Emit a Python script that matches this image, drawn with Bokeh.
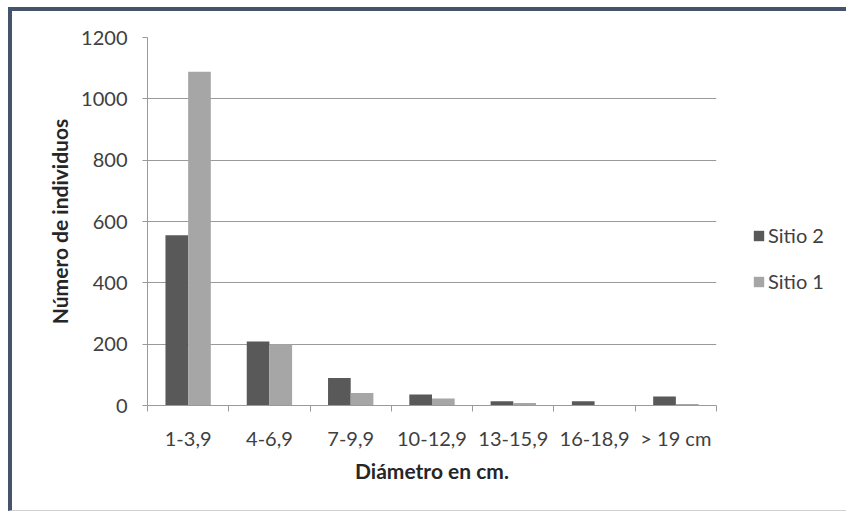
from bokeh.plotting import figure
from bokeh.models import ColumnDataSource, Range1d, FixedTicker, Legend, LegendItem
from bokeh.transform import dodge
from bokeh.embed import file_html
from bokeh.resources import INLINE

# ---- data ----
categories = ["1-3,9", "4-6,9", "7-9,9", "10-12,9", "13-15,9", "16-18,9", "> 19 cm"]
sitio2 = [555, 209, 90, 36, 14, 14, 29]
sitio1 = [1088, 200, 41, 23, 8, 2, 5]
y_ticks = [0, 200, 400, 600, 800, 1000, 1200]
series_names = ["Sitio 2", "Sitio 1"]

positions = list(range(1, len(categories) + 1))
source = ColumnDataSource(dict(x=positions, cat=categories, s2=sitio2, s1=sitio1))

FONT = "Lato"
DARK = "#595959"
LIGHT = "#a6a6a6"
GRID = "#9a9a9a"
TXT = "#404040"
TICK_FS = "20px"
TITLE_FS = "21px"

p = figure(
    frame_width=569, frame_height=368,
    output_backend="svg", toolbar_location=None,
    x_range=Range1d(0.5, len(categories) + 0.5),
    y_range=Range1d(0, 1200),
    min_border_left=135, min_border_right=130,
    min_border_top=26, min_border_bottom=105,
)
p.styles = {
    "margin-left": "8px", "margin-top": "7px",
    "border-left": "4px solid #46546a", "border-top": "4px solid #46546a",
    "border-bottom": "1px solid #d0d0d0",
}
p.background_fill_color = "white"
p.border_fill_color = "white"
p.outline_line_color = None

bw = 0.279
r2 = p.vbar(x=dodge("x", -bw / 2, range=p.x_range), top="s2", width=bw, bottom=0,
            source=source, fill_color=DARK, line_color=None)
r1 = p.vbar(x=dodge("x", bw / 2, range=p.x_range), top="s1", width=bw, bottom=0,
            source=source, fill_color=LIGHT, line_color=None)

# x axis: labels at category centres, tick marks at category boundaries
xa = p.xaxis[0]
xa.ticker = FixedTicker(ticks=positions,
                        minor_ticks=[v - 0.5 for v in positions] + [positions[-1] + 0.5])
xa.major_label_overrides = {v: c for v, c in zip(positions, categories)}
xa.major_tick_out = 0
xa.major_tick_in = 0
xa.minor_tick_out = 6
xa.minor_tick_in = 0
xa.minor_tick_line_color = GRID
xa.axis_line_color = GRID
xa.major_label_text_font = FONT
xa.major_label_text_font_size = TICK_FS
xa.major_label_text_color = TXT
xa.major_label_standoff = 14
xa.axis_label = "Diámetro en cm."
xa.axis_label_text_font = FONT
xa.axis_label_text_font_size = TITLE_FS
xa.axis_label_text_font_style = "bold"
xa.axis_label_text_color = "#262626"
xa.axis_label_standoff = 5

ya = p.yaxis[0]
ya.ticker = FixedTicker(ticks=y_ticks, minor_ticks=[])
ya.major_tick_out = 5
ya.major_tick_in = 0
ya.major_tick_line_color = GRID
ya.axis_line_color = GRID
ya.major_label_text_font = FONT
ya.major_label_text_font_size = TICK_FS
ya.major_label_text_color = TXT
ya.major_label_standoff = 15
ya.axis_label = "Número de individuos"
ya.axis_label_text_font = FONT
ya.axis_label_text_font_size = TITLE_FS
ya.axis_label_text_font_style = "bold"
ya.axis_label_text_color = "#262626"
ya.axis_label_standoff = 6

p.xgrid.grid_line_color = None
p.ygrid.ticker = FixedTicker(ticks=y_ticks)
p.ygrid.grid_line_color = GRID

legend = Legend(
    items=[LegendItem(label=series_names[0], renderers=[r2]),
           LegendItem(label=series_names[1], renderers=[r1])],
    location=(36, 112),
    orientation="vertical",
    border_line_color=None,
    background_fill_alpha=0,
    padding=0, margin=0,
    spacing=22,
    label_height=20,
    glyph_width=13, glyph_height=13,
    label_standoff=3,
    label_text_font=FONT,
    label_text_font_size=TICK_FS,
    label_text_color=TXT,
)
p.add_layout(legend, "right")

open("out.html", "w").write(file_html(p, INLINE))
